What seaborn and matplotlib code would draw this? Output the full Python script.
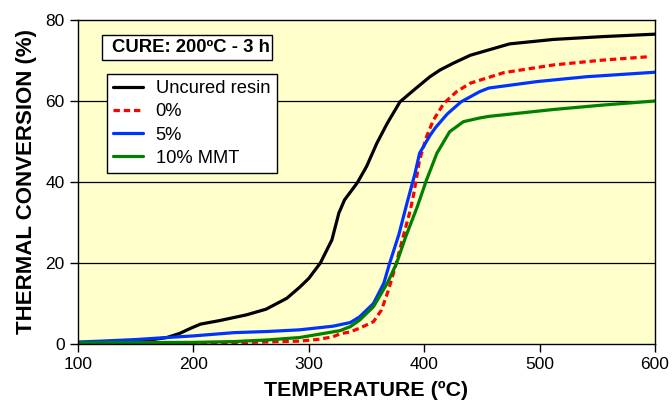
import matplotlib
matplotlib.use("Agg")
import matplotlib.pyplot as plt
from matplotlib.patches import Rectangle
import seaborn as sns
import pandas as pd

# Thermal conversion (%) versus temperature (ºC)
t_uncured = [100, 140, 165, 177, 188, 197, 206, 223, 246, 263, 281, 292, 300, 310, 320, 326, 331,
             342, 350, 359, 368, 379, 391, 405, 414, 425, 440, 474, 512, 555, 600]
c_uncured = [0.3, 0.6, 1.1, 1.6, 2.6, 3.8, 4.9, 5.8, 7.2, 8.6, 11.3, 14.0, 16.2, 20.0, 25.7, 32.3, 35.6,
             39.8, 43.8, 49.6, 54.5, 59.8, 62.7, 66.0, 67.7, 69.3, 71.3, 74.1, 75.2, 75.9, 76.5]

t_zero = [100, 160, 200, 234, 262, 292, 310, 321, 327, 336, 344, 356, 363, 369, 375, 381, 388, 391,
          396, 402, 408, 417, 428, 440, 469, 512, 555, 593]
c_zero = [0.1, 0.1, 0.2, 0.3, 0.5, 0.7, 1.2, 1.8, 2.5, 3.0, 3.9, 5.5, 8.4, 13.3, 19.1, 25.7, 33.1, 37.2,
          45.4, 51.2, 55.3, 59.4, 62.3, 64.4, 67.0, 68.9, 70.1, 70.9]

t_five = [100, 119, 150, 177, 200, 235, 265, 292, 321, 336, 344, 356, 365, 370, 378, 385, 392, 396,
          405, 410, 420, 432, 448, 456, 498, 541, 600]
c_five = [0.5, 0.7, 1.1, 1.6, 2.0, 2.8, 3.1, 3.5, 4.4, 5.3, 6.7, 10.0, 15.0, 19.9, 27.0, 34.7, 42.1, 47.1,
          51.5, 53.5, 56.8, 59.8, 62.3, 63.2, 64.8, 66.0, 67.1]

t_ten = [100, 200, 235, 264, 292, 321, 327, 336, 344, 356, 368, 376, 384, 394, 402, 411, 422, 434,
         448, 456, 512, 555, 600]
c_ten = [0.3, 0.4, 0.6, 1.0, 1.6, 3.0, 3.3, 4.3, 5.9, 9.2, 15.0, 19.9, 26.5, 33.9, 40.5, 47.1, 52.4, 54.9,
         55.8, 56.2, 57.9, 59.0, 60.0]

series_names = ["Uncured resin", "0%", "5%", "10% MMT"]
series_colors = ["black", "#FF0000", "#0033FF", "#008000"]

frames = []
for name, t, c in zip(series_names,
                      [t_uncured, t_zero, t_five, t_ten],
                      [c_uncured, c_zero, c_five, c_ten]):
    frames.append(pd.DataFrame({"T": t, "conv": c, "sample": name}))
data = pd.concat(frames, ignore_index=True)

sns.set_style("white")
plt.rcParams["font.family"] = ["Liberation Sans", "DejaVu Sans"]
plt.rcParams["text.color"] = "black"
plt.rcParams["axes.labelcolor"] = "black"
plt.rcParams["xtick.color"] = "black"
plt.rcParams["ytick.color"] = "black"

fig = plt.figure(figsize=(6.72, 4.03), dpi=100)
ax = fig.add_axes([0.1161, 0.1464, 0.8586, 0.804])
ax.set_facecolor("#FFFFCC")

handles = {}
for name, color in zip(series_names, series_colors):
    sub = data[data["sample"] == name]
    sns.lineplot(data=sub, x="T", y="conv", ax=ax, color=color,
                 linewidth=2.3, estimator=None, sort=True, legend=False)
    line = ax.lines[-1]
    if name == "0%":
        line.set_linestyle((0, (2.0, 1.2)))
    line.set_solid_capstyle("round")
    line.set_solid_joinstyle("round")
    handles[name] = line

ax.set_xlim(100, 600)
ax.set_ylim(0, 80)
ax.set_xticks(range(100, 601, 100))
ax.set_yticks(range(0, 81, 20))
for y in (20, 40, 60):
    ax.axhline(y, color="black", linewidth=0.9, zorder=0.5)

for s in ax.spines.values():
    s.set_color("black")
    s.set_linewidth(1.0)
ax.tick_params(axis="both", which="major", direction="out", length=6, width=1,
               color="black", labelsize=12.5, labelcolor="black", left=True, bottom=True)

ax.set_xlabel("TEMPERATURE (ºC)", fontsize=15.4, fontweight="bold", labelpad=6, color="black")
ax.set_ylabel("THERMAL CONVERSION (%)", fontsize=16, fontweight="bold", labelpad=6, color="black")

# boxed cure-condition note
ax.add_patch(Rectangle((0.0416, 0.8765), 0.2946, 0.0772, transform=ax.transAxes,
                       facecolor="white", edgecolor="black", linewidth=1, zorder=5))
ax.text(0.059, 0.914, "CURE: 200ºC - 3 h", transform=ax.transAxes, fontsize=13.3,
        fontweight="bold", ha="left", va="center", zorder=6, color="black")

leg = ax.legend([handles[n] for n in series_names], series_names,
                loc="upper left", bbox_to_anchor=(0.0503, 0.8333), fontsize=13.2,
                frameon=True, fancybox=False, edgecolor="black", framealpha=1,
                handlelength=1.6, handletextpad=0.7, borderpad=0.35,
                labelspacing=0.33, borderaxespad=0)
leg.get_frame().set_linewidth(1)
for txt in leg.get_texts():
    txt.set_color("black")

fig.savefig("out.png", dpi=100)
